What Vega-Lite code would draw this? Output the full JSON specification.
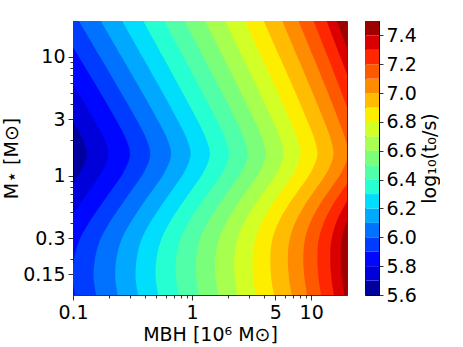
{
"$schema": "https://vega.github.io/schema/vega-lite/v6.json",
"padding": {"left": 2, "top": 20, "right": 0, "bottom": 0},
"background": "white",
"config": {
  "font": "DejaVu Sans",
  "axis": {"labelFont": "DejaVu Sans", "titleFont": "DejaVu Sans", "labelFontSize": 19, "titleFontSize": 19, "titleFontWeight": "normal", "labelColor": "black", "titleColor": "black", "tickColor": "black", "domainColor": "black", "grid": false, "tickWidth": 0.8, "domainWidth": 0.8, "zindex": 1, "labelFlush": false, "labelOverlap": false},
  "view": {"stroke": null}
},
"spacing": 17,
"hconcat": [
{
  "width": 274, "height": 274,
  "view": {"fill": "#00009e", "stroke": null},
  "data": {"values": [
{"level":5.7,"v":-1.02,"u":-1.357},{"level":5.7,"v":-0.85,"u":-1.382},{"level":5.7,"v":-0.70,"u":-1.367},{"level":5.7,"v":-0.55,"u":-1.322},{"level":5.7,"v":-0.40,"u":-1.237},{"level":5.7,"v":-0.25,"u":-1.135},{"level":5.7,"v":-0.10,"u":-1.027},{"level":5.7,"v":0.05,"u":-0.929},{"level":5.7,"v":0.18,"u":-0.885},{"level":5.7,"v":0.30,"u":-0.916},{"level":5.7,"v":0.45,"u":-0.995},{"level":5.7,"v":0.70,"u":-1.144},{"level":5.7,"v":1.00,"u":-1.328},{"level":5.7,"v":1.32,"u":-1.527},
{"level":5.8,"v":-1.02,"u":-1.168},{"level":5.8,"v":-0.85,"u":-1.193},{"level":5.8,"v":-0.70,"u":-1.180},{"level":5.8,"v":-0.55,"u":-1.137},{"level":5.8,"v":-0.40,"u":-1.054},{"level":5.8,"v":-0.25,"u":-0.953},{"level":5.8,"v":-0.10,"u":-0.845},{"level":5.8,"v":0.05,"u":-0.747},{"level":5.8,"v":0.18,"u":-0.703},{"level":5.8,"v":0.30,"u":-0.733},{"level":5.8,"v":0.45,"u":-0.812},{"level":5.8,"v":0.70,"u":-0.958},{"level":5.8,"v":1.00,"u":-1.139},{"level":5.8,"v":1.32,"u":-1.335},
{"level":5.9,"v":-1.02,"u":-0.979},{"level":5.9,"v":-0.85,"u":-1.005},{"level":5.9,"v":-0.70,"u":-0.992},{"level":5.9,"v":-0.55,"u":-0.951},{"level":5.9,"v":-0.40,"u":-0.871},{"level":5.9,"v":-0.25,"u":-0.770},{"level":5.9,"v":-0.10,"u":-0.663},{"level":5.9,"v":0.05,"u":-0.565},{"level":5.9,"v":0.18,"u":-0.521},{"level":5.9,"v":0.30,"u":-0.551},{"level":5.9,"v":0.45,"u":-0.627},{"level":5.9,"v":0.70,"u":-0.771},{"level":5.9,"v":1.00,"u":-0.951},{"level":5.9,"v":1.32,"u":-1.143},
{"level":6.0,"v":-1.02,"u":-0.801},{"level":6.0,"v":-0.85,"u":-0.827},{"level":6.0,"v":-0.70,"u":-0.816},{"level":6.0,"v":-0.55,"u":-0.777},{"level":6.0,"v":-0.40,"u":-0.698},{"level":6.0,"v":-0.25,"u":-0.599},{"level":6.0,"v":-0.10,"u":-0.492},{"level":6.0,"v":0.05,"u":-0.394},{"level":6.0,"v":0.18,"u":-0.350},{"level":6.0,"v":0.30,"u":-0.380},{"level":6.0,"v":0.45,"u":-0.454},{"level":6.0,"v":0.70,"u":-0.597},{"level":6.0,"v":1.00,"u":-0.773},{"level":6.0,"v":1.32,"u":-0.961},
{"level":6.1,"v":-1.02,"u":-0.620},{"level":6.1,"v":-0.85,"u":-0.646},{"level":6.1,"v":-0.70,"u":-0.636},{"level":6.1,"v":-0.55,"u":-0.599},{"level":6.1,"v":-0.40,"u":-0.522},{"level":6.1,"v":-0.25,"u":-0.425},{"level":6.1,"v":-0.10,"u":-0.318},{"level":6.1,"v":0.05,"u":-0.220},{"level":6.1,"v":0.18,"u":-0.176},{"level":6.1,"v":0.30,"u":-0.205},{"level":6.1,"v":0.45,"u":-0.279},{"level":6.1,"v":0.70,"u":-0.419},{"level":6.1,"v":1.00,"u":-0.592},{"level":6.1,"v":1.32,"u":-0.777},
{"level":6.2,"v":-1.02,"u":-0.449},{"level":6.2,"v":-0.85,"u":-0.475},{"level":6.2,"v":-0.70,"u":-0.466},{"level":6.2,"v":-0.55,"u":-0.431},{"level":6.2,"v":-0.40,"u":-0.357},{"level":6.2,"v":-0.25,"u":-0.260},{"level":6.2,"v":-0.10,"u":-0.154},{"level":6.2,"v":0.05,"u":-0.056},{"level":6.2,"v":0.18,"u":-0.012},{"level":6.2,"v":0.30,"u":-0.040},{"level":6.2,"v":0.45,"u":-0.112},{"level":6.2,"v":0.70,"u":-0.248},{"level":6.2,"v":1.00,"u":-0.417},{"level":6.2,"v":1.32,"u":-0.598},
{"level":6.3,"v":-1.02,"u":-0.279},{"level":6.3,"v":-0.85,"u":-0.306},{"level":6.3,"v":-0.70,"u":-0.299},{"level":6.3,"v":-0.55,"u":-0.265},{"level":6.3,"v":-0.40,"u":-0.193},{"level":6.3,"v":-0.25,"u":-0.098},{"level":6.3,"v":-0.10,"u":0.008},{"level":6.3,"v":0.05,"u":0.106},{"level":6.3,"v":0.18,"u":0.150},{"level":6.3,"v":0.30,"u":0.122},{"level":6.3,"v":0.45,"u":0.053},{"level":6.3,"v":0.70,"u":-0.081},{"level":6.3,"v":1.00,"u":-0.244},{"level":6.3,"v":1.32,"u":-0.421},
{"level":6.4,"v":-1.02,"u":-0.108},{"level":6.4,"v":-0.85,"u":-0.136},{"level":6.4,"v":-0.70,"u":-0.134},{"level":6.4,"v":-0.55,"u":-0.105},{"level":6.4,"v":-0.40,"u":-0.035},{"level":6.4,"v":-0.25,"u":0.060},{"level":6.4,"v":-0.10,"u":0.167},{"level":6.4,"v":0.05,"u":0.266},{"level":6.4,"v":0.18,"u":0.310},{"level":6.4,"v":0.30,"u":0.283},{"level":6.4,"v":0.45,"u":0.215},{"level":6.4,"v":0.70,"u":0.086},{"level":6.4,"v":1.00,"u":-0.073},{"level":6.4,"v":1.32,"u":-0.245},
{"level":6.5,"v":-1.02,"u":0.061},{"level":6.5,"v":-0.85,"u":0.034},{"level":6.5,"v":-0.70,"u":0.034},{"level":6.5,"v":-0.55,"u":0.060},{"level":6.5,"v":-0.40,"u":0.126},{"level":6.5,"v":-0.25,"u":0.219},{"level":6.5,"v":-0.10,"u":0.325},{"level":6.5,"v":0.05,"u":0.424},{"level":6.5,"v":0.18,"u":0.468},{"level":6.5,"v":0.30,"u":0.442},{"level":6.5,"v":0.45,"u":0.376},{"level":6.5,"v":0.70,"u":0.251},{"level":6.5,"v":1.00,"u":0.095},{"level":6.5,"v":1.32,"u":-0.072},
{"level":6.6,"v":-1.02,"u":0.225},{"level":6.6,"v":-0.85,"u":0.197},{"level":6.6,"v":-0.70,"u":0.196},{"level":6.6,"v":-0.55,"u":0.220},{"level":6.6,"v":-0.40,"u":0.282},{"level":6.6,"v":-0.25,"u":0.372},{"level":6.6,"v":-0.10,"u":0.478},{"level":6.6,"v":0.05,"u":0.576},{"level":6.6,"v":0.18,"u":0.620},{"level":6.6,"v":0.30,"u":0.594},{"level":6.6,"v":0.45,"u":0.531},{"level":6.6,"v":0.70,"u":0.410},{"level":6.6,"v":1.00,"u":0.261},{"level":6.6,"v":1.32,"u":0.100},
{"level":6.7,"v":-1.02,"u":0.384},{"level":6.7,"v":-0.85,"u":0.357},{"level":6.7,"v":-0.70,"u":0.354},{"level":6.7,"v":-0.55,"u":0.375},{"level":6.7,"v":-0.40,"u":0.434},{"level":6.7,"v":-0.25,"u":0.521},{"level":6.7,"v":-0.10,"u":0.626},{"level":6.7,"v":0.05,"u":0.724},{"level":6.7,"v":0.18,"u":0.768},{"level":6.7,"v":0.30,"u":0.744},{"level":6.7,"v":0.45,"u":0.683},{"level":6.7,"v":0.70,"u":0.567},{"level":6.7,"v":1.00,"u":0.423},{"level":6.7,"v":1.32,"u":0.269},
{"level":6.8,"v":-1.02,"u":0.540},{"level":6.8,"v":-0.85,"u":0.512},{"level":6.8,"v":-0.70,"u":0.509},{"level":6.8,"v":-0.55,"u":0.528},{"level":6.8,"v":-0.40,"u":0.583},{"level":6.8,"v":-0.25,"u":0.666},{"level":6.8,"v":-0.10,"u":0.770},{"level":6.8,"v":0.05,"u":0.868},{"level":6.8,"v":0.18,"u":0.912},{"level":6.8,"v":0.30,"u":0.889},{"level":6.8,"v":0.45,"u":0.830},{"level":6.8,"v":0.70,"u":0.719},{"level":6.8,"v":1.00,"u":0.581},{"level":6.8,"v":1.32,"u":0.433},
{"level":6.9,"v":-1.02,"u":0.692},{"level":6.9,"v":-0.85,"u":0.664},{"level":6.9,"v":-0.70,"u":0.657},{"level":6.9,"v":-0.55,"u":0.670},{"level":6.9,"v":-0.40,"u":0.721},{"level":6.9,"v":-0.25,"u":0.805},{"level":6.9,"v":-0.10,"u":0.909},{"level":6.9,"v":0.05,"u":1.008},{"level":6.9,"v":0.18,"u":1.052},{"level":6.9,"v":0.30,"u":1.030},{"level":6.9,"v":0.45,"u":0.973},{"level":6.9,"v":0.70,"u":0.868},{"level":6.9,"v":1.00,"u":0.735},{"level":6.9,"v":1.32,"u":0.594},
{"level":7.0,"v":-1.02,"u":0.840},{"level":7.0,"v":-0.85,"u":0.813},{"level":7.0,"v":-0.70,"u":0.804},{"level":7.0,"v":-0.55,"u":0.816},{"level":7.0,"v":-0.40,"u":0.863},{"level":7.0,"v":-0.25,"u":0.943},{"level":7.0,"v":-0.10,"u":1.045},{"level":7.0,"v":0.05,"u":1.144},{"level":7.0,"v":0.18,"u":1.188},{"level":7.0,"v":0.30,"u":1.167},{"level":7.0,"v":0.45,"u":1.113},{"level":7.0,"v":0.70,"u":1.011},{"level":7.0,"v":1.00,"u":0.885},{"level":7.0,"v":1.32,"u":0.750},
{"level":7.1,"v":-1.02,"u":0.970},{"level":7.1,"v":-0.85,"u":0.943},{"level":7.1,"v":-0.70,"u":0.934},{"level":7.1,"v":-0.55,"u":0.944},{"level":7.1,"v":-0.40,"u":0.989},{"level":7.1,"v":-0.25,"u":1.066},{"level":7.1,"v":-0.10,"u":1.167},{"level":7.1,"v":0.05,"u":1.266},{"level":7.1,"v":0.18,"u":1.310},{"level":7.1,"v":0.30,"u":1.290},{"level":7.1,"v":0.45,"u":1.237},{"level":7.1,"v":0.70,"u":1.140},{"level":7.1,"v":1.00,"u":1.018},{"level":7.1,"v":1.32,"u":0.887},
{"level":7.2,"v":-1.02,"u":1.087},{"level":7.2,"v":-0.85,"u":1.061},{"level":7.2,"v":-0.70,"u":1.052},{"level":7.2,"v":-0.55,"u":1.061},{"level":7.2,"v":-0.40,"u":1.103},{"level":7.2,"v":-0.25,"u":1.177},{"level":7.2,"v":-0.10,"u":1.277},{"level":7.2,"v":0.05,"u":1.376},{"level":7.2,"v":0.18,"u":1.420},{"level":7.2,"v":0.30,"u":1.400},{"level":7.2,"v":0.45,"u":1.350},{"level":7.2,"v":0.70,"u":1.255},{"level":7.2,"v":1.00,"u":1.139},{"level":7.2,"v":1.32,"u":1.013},
{"level":7.3,"v":-1.02,"u":1.195},{"level":7.3,"v":-0.85,"u":1.169},{"level":7.3,"v":-0.70,"u":1.160},{"level":7.3,"v":-0.55,"u":1.168},{"level":7.3,"v":-0.40,"u":1.207},{"level":7.3,"v":-0.25,"u":1.279},{"level":7.3,"v":-0.10,"u":1.378},{"level":7.3,"v":0.05,"u":1.476},{"level":7.3,"v":0.18,"u":1.520},{"level":7.3,"v":0.30,"u":1.501},{"level":7.3,"v":0.45,"u":1.452},{"level":7.3,"v":0.70,"u":1.360},{"level":7.3,"v":1.00,"u":1.245},{"level":7.3,"v":1.32,"u":1.123},
{"level":7.4,"v":-1.02,"u":1.283},{"level":7.4,"v":-0.85,"u":1.258},{"level":7.4,"v":-0.70,"u":1.248},{"level":7.4,"v":-0.55,"u":1.254},{"level":7.4,"v":-0.40,"u":1.291},{"level":7.4,"v":-0.25,"u":1.361},{"level":7.4,"v":-0.10,"u":1.458},{"level":7.4,"v":0.05,"u":1.556},{"level":7.4,"v":0.18,"u":1.600},{"level":7.4,"v":0.30,"u":1.581},{"level":7.4,"v":0.45,"u":1.532},{"level":7.4,"v":0.70,"u":1.442},{"level":7.4,"v":1.00,"u":1.329},{"level":7.4,"v":1.32,"u":1.208}
  ]},
  "layer": [
    {
      "mark": {"type": "area", "orient": "horizontal", "clip": true, "interpolate": "catmull-rom"},
      "encoding": {
        "y": {"field": "v", "type": "quantitative", "scale": {"domain": [-1, 1.30103], "nice": false, "zero": false},
              "axis": {"orient": "left", "title": "M⋆ [M⊙]", "titlePadding": 1, "labelPadding": 3,
                       "values": [-0.82391, -0.69897, -0.52288, -0.39794, -0.30103, -0.22185, -0.1549, -0.09691, -0.04576, 0, 0.30103, 0.47712, 0.60206, 0.69897, 0.77815, 0.8451, 0.90309, 0.95424, 1],
                       "labelExpr": "indexof([-0.82391,-0.52288,0,0.47712,1], datum.value) >= 0 ? '' + round(pow(10, datum.value)*100)/100 : ''",
                       "tickSize": {"condition": {"test": "indexof([-0.82391,-0.52288,0,0.47712,1], datum.value) >= 0", "value": 5}, "value": 3}}},
        "x": {"field": "u", "type": "quantitative", "stack": null, "scale": {"domain": [-1, 1.30103], "nice": false, "zero": false},
              "axis": {"orient": "bottom", "title": "MBH [10⁶ M⊙]", "titlePadding": 3, "labelPadding": 3,
                       "values": [-1, -0.69897, -0.52288, -0.39794, -0.30103, -0.22185, -0.1549, -0.09691, -0.04576, 0, 0.30103, 0.47712, 0.60206, 0.69897, 0.77815, 0.8451, 0.90309, 0.95424, 1],
                       "labelExpr": "indexof([-1,0,0.69897,1], datum.value) >= 0 ? '' + round(pow(10, datum.value)*100)/100 : ''",
                       "tickSize": {"condition": {"test": "indexof([-1,0,0.69897,1], datum.value) >= 0", "value": 5}, "value": 3}}},
        "x2": {"datum": 2},
        "color": {"field": "level", "type": "ordinal",
                  "scale": {"domain": [5.6,5.7,5.8,5.9,6.0,6.1,6.2,6.3,6.4,6.5,6.6,6.7,6.8,6.9,7.0,7.1,7.2,7.3,7.4],
                            "range": ["#00009e","#0000db","#0007ff","#003cff","#0072ff","#00a8ff","#00ddfd","#25ffd2","#50ffa7","#7bff7b","#a7ff50","#d2ff25","#fdee00","#ffbc00","#ff8b00","#ff5900","#ff2700","#db0000","#9e0000"]},
                  "legend": null}
      }
    },
    {
      "mark": {"type": "point", "opacity": 0, "clip": true},
      "encoding": {
        "x": {"field": "u", "type": "quantitative", "axis": {"orient": "top", "labels": false, "ticks": false, "title": null}},
        "y": {"field": "v", "type": "quantitative", "axis": {"orient": "right", "labels": false, "ticks": false, "title": null}}
      }
    }
  ],
  "resolve": {"axis": {"x": "independent", "y": "independent"}}
},
{
  "width": 14, "height": 274,
  "view": {"stroke": "black", "strokeWidth": 1},
  "data": {"values": [
    {"level":5.6,"hi":5.7},{"level":5.7,"hi":5.8},{"level":5.8,"hi":5.9},{"level":5.9,"hi":6.0},{"level":6.0,"hi":6.1},{"level":6.1,"hi":6.2},{"level":6.2,"hi":6.3},{"level":6.3,"hi":6.4},{"level":6.4,"hi":6.5},{"level":6.5,"hi":6.6},{"level":6.6,"hi":6.7},{"level":6.7,"hi":6.8},{"level":6.8,"hi":6.9},{"level":6.9,"hi":7.0},{"level":7.0,"hi":7.1},{"level":7.1,"hi":7.2},{"level":7.2,"hi":7.3},{"level":7.3,"hi":7.4},{"level":7.4,"hi":7.5}
  ]},
  "mark": "rect",
  "encoding": {
    "y": {"field": "level", "type": "quantitative", "scale": {"domain": [5.6, 7.5], "nice": false, "zero": false},
          "axis": {"orient": "right", "values": [5.6,5.8,6.0,6.2,6.4,6.6,6.8,7.0,7.2,7.4], "format": ".1f", "title": "log₁₀(t₀/s)", "titleAngle": 270, "titleBaseline": "top", "titlePadding": 4, "tickSize": 4, "labelPadding": 3}},
    "y2": {"field": "hi"},
    "color": {"field": "level", "type": "ordinal",
              "scale": {"domain": [5.6,5.7,5.8,5.9,6.0,6.1,6.2,6.3,6.4,6.5,6.6,6.7,6.8,6.9,7.0,7.1,7.2,7.3,7.4],
                        "range": ["#00009e","#0000db","#0007ff","#003cff","#0072ff","#00a8ff","#00ddfd","#25ffd2","#50ffa7","#7bff7b","#a7ff50","#d2ff25","#fdee00","#ffbc00","#ff8b00","#ff5900","#ff2700","#db0000","#9e0000"]},
              "legend": null}
  }
}
]
}
